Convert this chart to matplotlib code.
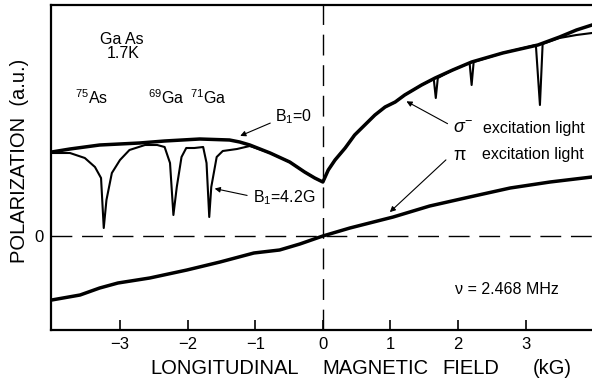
import matplotlib
matplotlib.use("Agg")
import matplotlib.pyplot as plt

plt.rcParams['font.family'] = ['Liberation Sans', 'DejaVu Sans']
plt.rcParams['mathtext.fontset'] = 'custom'
plt.rcParams['mathtext.rm'] = 'Liberation Sans'
plt.rcParams['mathtext.it'] = 'Liberation Sans:italic'
plt.rcParams['axes.unicode_minus'] = True

# pi excitation light
pi_x = [-4.01, -3.59, -3.30, -3.03, -2.56, -2.01, -1.52, -1.02, -0.64, -0.34,
        0.0, 0.40, 1.04, 1.58, 2.17, 2.77, 3.36, 3.98]
pi_y = [-0.64, -0.59, -0.52, -0.47, -0.42, -0.34, -0.26, -0.17, -0.14, -0.08,
        0.0, 0.08, 0.19, 0.30, 0.39, 0.48, 0.54, 0.59]

# sigma- excitation, B1 = 0
b0_x = [-4.01, -3.74, -3.30, -2.71, -2.34, -1.82, -1.38, -1.23, -1.08, -0.78,
        -0.49, -0.27, -0.12, 0.0, 0.08, 0.18, 0.33, 0.47, 0.62, 0.77, 0.92,
        1.07, 1.21, 1.46, 1.66, 1.92, 2.20, 2.66, 3.18, 3.50, 3.75, 3.98]
b0_y = [0.84, 0.87, 0.91, 0.93, 0.95, 0.97, 0.96, 0.94, 0.91, 0.83,
        0.74, 0.64, 0.58, 0.54, 0.66, 0.76, 0.88, 1.01, 1.11, 1.21, 1.29,
        1.34, 1.41, 1.51, 1.58, 1.66, 1.74, 1.83, 1.91, 1.99, 2.06, 2.11]

# sigma- excitation, B1 = 4.2 G (NMR dips)
b42_x = [-4.01, -3.74, -3.52, -3.37, -3.28, -3.24, -3.20, -3.12, -3.00, -2.86,
         -2.63, -2.45, -2.34, -2.26, -2.21, -2.16, -2.09, -2.02, -1.90,
         -1.77, -1.72, -1.68, -1.65, -1.57, -1.48, -1.27, -1.08, -0.78,
         -0.49, -0.27, -0.12, 0.0, 0.08, 0.18, 0.33, 0.47, 0.62, 0.77, 0.92,
         1.07, 1.21, 1.46, 1.64, 1.67, 1.70, 1.92, 2.17, 2.20, 2.23, 2.66,
         3.15, 3.21, 3.25, 3.50, 3.75, 3.98]
b42_y = [0.83, 0.83, 0.78, 0.69, 0.58, 0.08, 0.36, 0.63, 0.76, 0.86,
         0.91, 0.91, 0.89, 0.73, 0.21, 0.49, 0.79, 0.88, 0.88,
         0.89, 0.73, 0.19, 0.49, 0.79, 0.85, 0.87, 0.90, 0.83,
         0.74, 0.64, 0.58, 0.54, 0.66, 0.76, 0.88, 1.01, 1.11, 1.21, 1.29,
         1.34, 1.41, 1.51, 1.57, 1.38, 1.58, 1.66, 1.73, 1.51, 1.74, 1.83,
         1.91, 1.31, 1.92, 1.98, 2.01, 2.03]

xticks = [-3, -2, -1, 0, 1, 2, 3]

fig = plt.figure(figsize=(5.92, 3.81), dpi=100)
ax = fig.add_axes([51/592, 51/381, 541/592, 325/381])

ax.plot(pi_x, pi_y, color='black', lw=2.5, solid_joinstyle='round')
ax.plot(b42_x, b42_y, color='black', lw=1.5, solid_joinstyle='round')
ax.plot(b0_x, b0_y, color='black', lw=2.5, solid_joinstyle='round')

ax.axhline(0, color='black', lw=1.0, ls=(0, (15, 7)))
ax.axvline(0, color='black', lw=1.0, ls=(0, (15, 7)))

ax.set_xlim(-4.02, 3.98)
ax.set_ylim(-0.94, 2.31)
for s in ['left', 'bottom', 'top']:
    ax.spines[s].set_linewidth(1.6)
ax.spines['right'].set_visible(False)

ax.set_xticks(xticks)
ax.set_yticks([0])
ax.tick_params(axis='x', direction='in', length=7, width=1.2, pad=5, labelsize=12)
ax.tick_params(axis='y', length=0, pad=5, labelsize=12)

# axis labels (spaced out like the original)
fs_lab = 14.5
fig.text(150/592, 1 - 368/381, 'LONGITUDINAL', fontsize=fs_lab, ha='left', va='center')
fig.text(322/592, 1 - 368/381, 'MAGNETIC', fontsize=fs_lab, ha='left', va='center')
fig.text(442/592, 1 - 368/381, 'FIELD', fontsize=fs_lab, ha='left', va='center')
fig.text(533/592, 1 - 368/381, '(kG)', fontsize=fs_lab, ha='left', va='center')
fig.text(20/592, 1 - 161/381, 'POLARIZATION  (a.u.)', fontsize=fs_lab,
         rotation=90, ha='center', va='center')

# annotations
fs = 11.5
def px(x, y):
    return (x / 592, 1 - y / 381)

fig.text(*px(100, 39), 'Ga As', fontsize=fs, ha='left', va='center')
fig.text(*px(107, 53), '1.7K', fontsize=fs, ha='left', va='center')
fig.text(*px(75, 98), r'$^{75}$As', fontsize=fs, ha='left', va='center')
fig.text(*px(148, 98), r'$^{69}$Ga', fontsize=fs, ha='left', va='center')
fig.text(*px(190, 98), r'$^{71}$Ga', fontsize=fs, ha='left', va='center')
fig.text(*px(275, 117), r'B$_1$=0', fontsize=fs, ha='left', va='center')
fig.text(*px(253, 198), r'B$_1$=4.2G', fontsize=fs, ha='left', va='center')
fig.text(*px(453, 128), r'$\sigma^{-}$', fontsize=fs + 1.5, ha='left', va='center')
fig.text(*px(483, 128), 'excitation light', fontsize=fs, ha='left', va='center')
fig.text(*px(453, 155), 'π', fontsize=fs + 1.5, ha='left', va='center')
fig.text(*px(482, 155), 'excitation light', fontsize=fs, ha='left', va='center')
fig.text(*px(455, 290), 'ν = 2.468 MHz', fontsize=fs, ha='left', va='center')

arrow = dict(arrowstyle='-|>', color='black', lw=0.8, mutation_scale=8)
ax.annotate('', xy=(-1.26, 0.99), xytext=(-0.74, 1.14), arrowprops=arrow)
ax.annotate('', xy=(-1.64, 0.48), xytext=(-1.08, 0.40), arrowprops=arrow)
ax.annotate('', xy=(1.20, 1.36), xytext=(1.88, 1.11), arrowprops=arrow)
ax.annotate('', xy=(0.96, 0.22), xytext=(1.85, 0.78), arrowprops=arrow)

fig.savefig('out.png', dpi=100)
